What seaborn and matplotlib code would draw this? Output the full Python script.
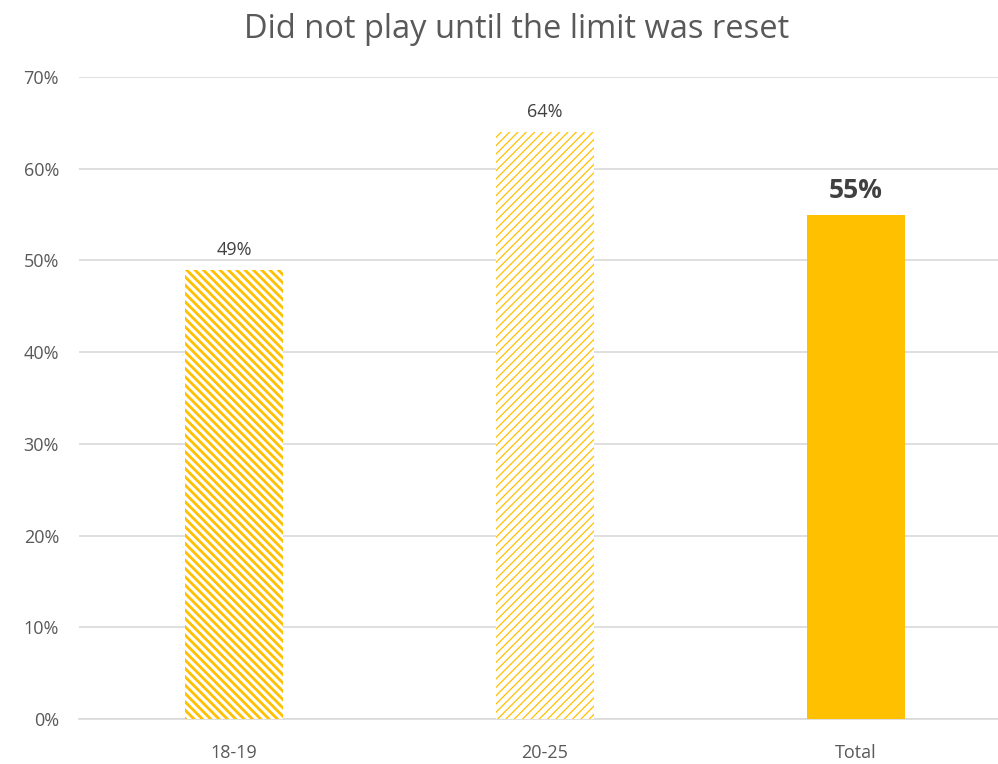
import matplotlib
matplotlib.use("Agg")
import matplotlib.pyplot as plt
import seaborn as sns
import pandas as pd

# values
groups = ["18-19", "20-25", "Total"]
shares = [0.49, 0.64, 0.55]
title = "Did not play until the limit was reset"

gold = "#FFC000"
grey_txt = "#595959"

sns.set_style("white")
plt.rcParams["font.family"] = ["Open Sans", "DejaVu Sans"]
plt.rcParams["hatch.linewidth"] = 2.0

df = pd.DataFrame({"group": groups, "share": shares})

fig = plt.figure(figsize=(9.98, 7.64), dpi=100)
ax = fig.add_axes([0.0787, 0.0589, 0.9213, 0.8403])

sns.barplot(data=df, x="group", y="share", color=gold, width=0.315,
            saturation=1, ax=ax, zorder=3)

# first two bars are hatched, total is solid
styles = [("\\\\\\\\", 2.0), ("////", 0.9), (None, 0)]
for patch, (hatch, lw) in zip(ax.patches, styles):
    patch.set_linewidth(0)
    if hatch:
        patch.set_facecolor("white")
        patch.set_edgecolor(gold)
        patch.set_hatch(hatch)
        if hasattr(patch, "set_hatch_linewidth"):
            patch.set_hatch_linewidth(lw)

ax.set_ylim(0, 0.7)
ax.set_xlim(-0.5, 2.457)
ax.set_yticks([i / 10 for i in range(8)])
ax.set_yticklabels([f"{i * 10}%" for i in range(8)])
ax.grid(axis="y", color="#D9D9D9", linewidth=1.2, zorder=0)
ax.set_axisbelow(True)
for s in ["left", "right", "top"]:
    ax.spines[s].set_visible(False)
ax.spines["bottom"].set_color("#D9D9D9")
ax.spines["bottom"].set_linewidth(1.2)
ax.tick_params(axis="both", length=0, labelsize=13, colors=grey_txt)
ax.tick_params(axis="x", pad=18)
ax.tick_params(axis="y", pad=14)
ax.set_xlabel("")
ax.set_ylabel("")

for i, v in enumerate(shares):
    if groups[i] == "Total":
        ax.text(i, v + 0.012, f"{v:.0%}", ha="center", va="bottom",
                fontsize=19, fontweight="bold", color="#404040")
    else:
        ax.text(i, v + 0.012, f"{v:.0%}", ha="center", va="bottom",
                fontsize=13, color="#404040")

fig.text(0.5178, 0.961, title, ha="center", va="center", fontsize=23.5,
         color=grey_txt)

fig.savefig("out.png", dpi=100)
